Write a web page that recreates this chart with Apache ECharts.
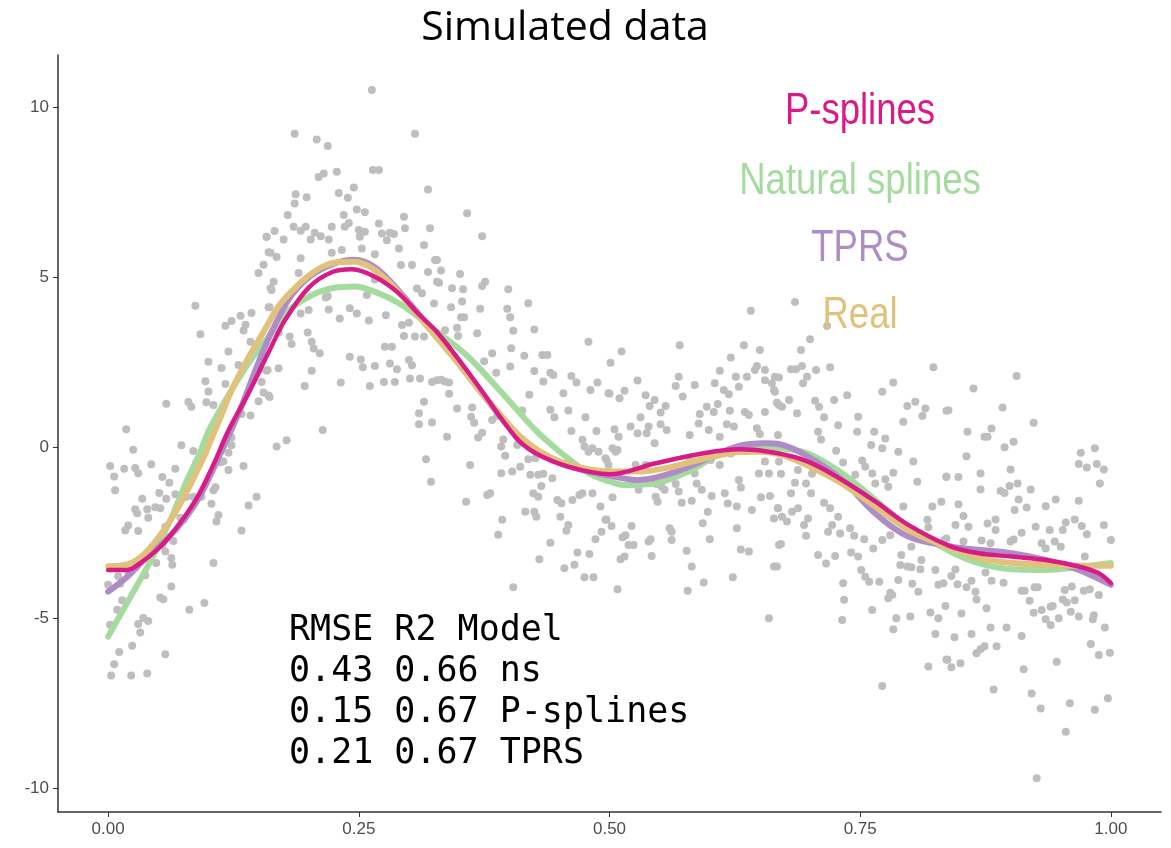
<!DOCTYPE html>
<html><head><meta charset="utf-8">
<script src="https://cdn.jsdelivr.net/npm/echarts@6/dist/echarts.min.js"></script>
<style>html,body{margin:0;padding:0;background:#fff}#c{width:1171px;height:848px}</style>
</head><body><div id="c"></div>
<script>
var titleText = 'Simulated data';
var xTicks = [0, 0.25, 0.5, 0.75, 1];
var yTicks = [-10, -5, 0, 5, 10];
var legendNames = ['P-splines', 'Natural splines', 'TPRS', 'Real'];
var statsLines = ['RMSE R2 Model', '0.43 0.66 ns', '0.15 0.67 P-splines', '0.21 0.67 TPRS'];

var realCurve = [[0,-3.48],[0.02,-3.42],[0.035,-3.15],[0.05,-2.65],[0.065,-2.0],[0.08,-1.2],[0.095,-0.3],[0.11,0.75],[0.125,1.8],[0.14,2.65],[0.155,3.4],[0.17,4.15],[0.185,4.65],[0.2,5.05],[0.215,5.33],[0.23,5.45],[0.245,5.46],[0.26,5.33],[0.275,5.0],[0.29,4.55],[0.31,3.85],[0.33,3.15],[0.35,2.45],[0.37,1.7],[0.39,1.0],[0.41,0.35],[0.43,-0.1],[0.45,-0.4],[0.47,-0.58],[0.5,-0.7],[0.53,-0.7],[0.56,-0.58],[0.595,-0.32],[0.63,-0.13],[0.65,-0.12],[0.67,-0.2],[0.7,-0.56],[0.73,-1.02],[0.765,-1.73],[0.8,-2.45],[0.84,-2.95],[0.87,-3.25],[0.9,-3.38],[0.935,-3.44],[0.97,-3.47],[1.0,-3.47]];
var pSplinesCurve = [[0,-3.59],[0.019,-3.59],[0.032,-3.39],[0.052,-2.91],[0.072,-2.2],[0.09,-1.4],[0.105,-0.5],[0.12,0.5],[0.14,1.6],[0.16,2.8],[0.1765,3.75],[0.2,4.7],[0.223,5.15],[0.243,5.24],[0.266,5.02],[0.29,4.53],[0.309,3.94],[0.329,3.36],[0.366,1.94],[0.406,0.32],[0.426,-0.16],[0.459,-0.56],[0.5,-0.78],[0.546,-0.46],[0.595,-0.16],[0.629,-0.05],[0.665,-0.15],[0.698,-0.41],[0.732,-0.95],[0.765,-1.58],[0.798,-2.27],[0.84,-2.9],[0.868,-3.1],[0.901,-3.2],[0.935,-3.3],[0.968,-3.49],[0.988,-3.69],[1.0,-3.98]];
var tprsCurve = [[0,-4.23],[0.019,-3.79],[0.039,-3.2],[0.058,-2.71],[0.078,-2.03],[0.092,-1.4],[0.11,-0.3],[0.13,1.0],[0.157,3.0],[0.18,4.35],[0.2,5.0],[0.223,5.38],[0.245,5.52],[0.266,5.3],[0.29,4.6],[0.33,3.2],[0.37,1.7],[0.41,0.3],[0.45,-0.45],[0.496,-0.8],[0.529,-0.95],[0.562,-0.75],[0.595,-0.36],[0.629,0.05],[0.655,0.13],[0.67,0.1],[0.698,-0.26],[0.732,-0.95],[0.765,-1.93],[0.798,-2.61],[0.84,-2.9],[0.868,-3.0],[0.901,-3.1],[0.935,-3.3],[0.968,-3.59],[1.0,-4.03]];
var naturalCurve = [[0,-5.55],[0.015,-4.76],[0.032,-3.88],[0.048,-3.0],[0.065,-1.93],[0.078,-1.0],[0.09,-0.25],[0.103,0.65],[0.137,2.35],[0.161,3.3],[0.1765,3.94],[0.2,4.43],[0.223,4.68],[0.246,4.73],[0.27,4.53],[0.29,4.24],[0.309,3.85],[0.326,3.45],[0.359,2.67],[0.393,1.6],[0.426,0.52],[0.452,-0.16],[0.479,-0.75],[0.501,-1.0],[0.516,-1.1],[0.546,-1.05],[0.579,-0.7],[0.612,-0.16],[0.645,0.03],[0.67,-0.02],[0.698,-0.17],[0.732,-0.75],[0.765,-1.53],[0.798,-2.32],[0.84,-3.05],[0.868,-3.39],[0.901,-3.57],[0.935,-3.59],[0.968,-3.51],[1.0,-3.39]];

var simPoints = [
[0.158,6.19],[0.160,5.74],[0.155,5.37],[0.150,5.13],[0.162,4.68],[0.160,4.12],[0.087,4.17],[0.092,3.33],[0.123,3.72],[0.117,3.58],[0.132,3.87],[0.143,3.95],[0.135,3.44],[0.137,3.61],[0.120,2.82],[0.100,2.52],[0.113,2.34],[0.097,1.95],[0.100,1.65],[0.058,1.29],[0.080,1.34],[0.083,1.20],[0.098,1.33],[0.105,1.25],[0.117,1.87],[0.130,2.43],[0.142,3.11],[0.152,2.32],[0.158,2.26],[0.153,1.93],[0.155,1.62],[0.150,1.36],[0.142,0.94],[0.133,0.99],[0.160,1.53],[0.123,0.30],[0.123,0.07],[0.120,-0.15],[0.115,-0.40],[0.112,-0.43],[0.120,-0.66],[0.135,-0.54],[0.018,0.54],[0.025,-0.06],[0.002,-0.54],[0.016,-0.62],[0.027,-0.60],[0.030,-0.75],[0.043,-0.49],[0.006,-0.85],[0.007,-1.25],[0.067,-0.62],[0.073,0.07],[0.085,-0.10],[0.088,-0.43],[0.054,-0.86],[0.061,-1.03],[0.051,-1.33],[0.034,-1.5],[0.027,-1.81],[0.029,-1.93],[0.039,-1.81],[0.040,-2.06],[0.047,-1.75],[0.052,-1.78],[0.058,-1.5],[0.067,-1.37],[0.078,-1.44],[0.085,-1.44],[0.093,-1.44],[0.105,-1.25],[0.107,-1.16],[0.103,-1.65],[0.110,-1.98],[0.108,-2.17],[0.072,-2.06],[0.075,-2.12],[0.020,-2.29],[0.017,-2.43],[0.030,-2.45],[0.057,-2.32],[0.065,-2.74],[0.054,-2.85],[0.057,-3.05],[0.063,-3.24],[0.064,-3.44],[0.048,-3.39],[0.037,-3.75],[0.020,-3.63],[0.010,-3.78],[0.000,-4.03],[0.012,-4.0],[0.105,-3.39],[0.133,-2.43],[0.140,-1.70],[0.148,-1.44],[0.063,-4.08],[0.052,-4.4],[0.055,-4.45],[0.081,-4.76],[0.096,-4.56],[0.014,-4.48],[0.009,-4.76],[0.002,-5.2],[0.030,-5.18],[0.035,-5.0],[0.040,-5.09],[0.032,-5.43],[0.024,-5.82],[0.011,-6.0],[0.057,-6.07],[0.006,-6.36],[0.003,-6.69],[0.023,-6.69],[0.039,-6.63],
[0.263,10.5],[0.186,9.22],[0.208,9.05],[0.219,8.86],[0.306,9.22],[0.210,7.95],[0.215,8.05],[0.228,8.10],[0.264,8.15],[0.270,8.15],[0.245,7.64],[0.230,7.48],[0.187,7.44],[0.198,7.35],[0.186,7.17],[0.239,7.34],[0.319,7.58],[0.179,6.83],[0.235,6.83],[0.248,6.99],[0.256,6.91],[0.295,6.78],[0.158,6.19],[0.166,6.36],[0.185,6.49],[0.192,6.37],[0.197,6.49],[0.175,6.11],[0.206,6.31],[0.202,6.11],[0.212,6.21],[0.220,6.11],[0.223,6.49],[0.236,6.49],[0.240,6.60],[0.250,6.39],[0.256,6.34],[0.251,6.19],[0.270,6.58],[0.273,6.29],[0.281,6.31],[0.285,6.27],[0.296,6.44],[0.321,6.44],[0.278,6.09],[0.290,5.85],[0.315,5.95],[0.162,5.72],[0.168,5.6],[0.192,5.56],[0.223,5.72],[0.233,5.80],[0.253,5.85],[0.266,5.68],[0.326,5.51],[0.190,5.13],[0.165,4.87],[0.163,4.63],[0.292,5.36],[0.303,5.36],[0.319,5.16],[0.328,4.87],[0.308,4.67],[0.313,4.53],[0.161,4.12],[0.219,4.45],[0.217,4.41],[0.258,4.48],[0.266,4.94],[0.192,3.94],[0.200,4.04],[0.220,4.06],[0.241,4.09],[0.248,3.94],[0.231,3.79],[0.260,3.73],[0.277,3.89],[0.325,4.23],[0.170,3.37],[0.181,3.26],[0.183,3.04],[0.199,3.38],[0.203,3.11],[0.205,2.91],[0.211,2.77],[0.159,2.28],[0.170,2.33],[0.203,2.26],[0.241,2.67],[0.252,2.59],[0.254,2.36],[0.266,2.40],[0.275,1.93],[0.281,2.47],[0.288,2.30],[0.286,1.93],[0.293,3.6],[0.295,3.28],[0.300,3.67],[0.306,3.26],[0.315,3.26],[0.276,2.96],[0.283,2.96],[0.300,2.57],[0.303,2.42],[0.301,2.03],[0.311,2.03],[0.323,1.93],[0.328,1.98],[0.196,1.81],[0.232,1.91],[0.261,1.81],[0.161,1.49],[0.315,1.35],[0.310,1.01],[0.310,0.69],[0.323,0.74],[0.214,0.52],[0.178,0.22],[0.168,0.03],[0.317,-0.34],[0.322,-1.0],
[0.358,6.88],[0.373,6.21],[0.328,5.51],[0.332,5.2],[0.330,4.84],[0.351,5.1],[0.343,4.68],[0.354,4.65],[0.373,4.75],[0.376,4.87],[0.399,4.65],[0.419,4.24],[0.353,4.29],[0.342,4.12],[0.371,4.08],[0.398,4.08],[0.352,3.83],[0.355,3.83],[0.401,3.83],[0.348,3.52],[0.336,3.45],[0.349,3.28],[0.368,3.36],[0.404,3.43],[0.425,3.47],[0.402,2.92],[0.383,2.77],[0.415,2.70],[0.433,2.72],[0.438,2.72],[0.479,3.11],[0.375,2.54],[0.401,2.38],[0.387,2.2],[0.425,2.25],[0.441,2.2],[0.444,2.13],[0.462,2.1],[0.467,1.91],[0.488,1.91],[0.481,1.69],[0.499,1.6],[0.336,1.94],[0.340,1.91],[0.332,1.99],[0.340,1.58],[0.434,1.94],[0.454,1.6],[0.420,1.55],[0.348,1.15],[0.363,1.18],[0.362,0.91],[0.365,0.73],[0.373,0.44],[0.369,0.3],[0.383,0.81],[0.388,0.93],[0.413,1.09],[0.441,1.11],[0.445,0.89],[0.459,1.09],[0.476,0.89],[0.462,0.49],[0.487,0.49],[0.338,0.32],[0.394,0.24],[0.392,0.03],[0.396,-0.24],[0.408,0.08],[0.409,0.27],[0.361,-0.51],[0.392,-0.75],[0.403,-0.7],[0.411,-0.56],[0.419,-0.34],[0.426,-0.31],[0.421,-0.8],[0.429,-0.8],[0.434,-0.77],[0.443,-0.9],[0.473,0.23],[0.475,0.03],[0.479,-0.12],[0.483,-0.02],[0.489,-0.12],[0.496,-0.31],[0.499,-0.51],[0.432,-1.13],[0.424,-1.34],[0.429,-1.44],[0.378,-1.39],[0.381,-1.34],[0.357,-1.59],[0.448,-1.54],[0.452,-1.63],[0.463,-1.54],[0.470,-1.39],[0.473,-1.34],[0.483,-1.34],[0.491,-1.73],[0.416,-1.88],[0.425,-1.88],[0.427,-2.03],[0.451,-2.03],[0.393,-2.12],[0.459,-2.27],[0.457,-2.44],[0.496,-2.12],[0.492,-2.47],[0.389,-2.56],[0.486,-2.69],[0.441,-2.79],[0.468,-3.08],[0.480,-3.12],[0.430,-3.28],[0.455,-3.54],[0.465,-3.44],[0.475,-3.81],[0.484,-3.81],[0.404,-4.1],
[0.641,4.02],[0.570,3.01],[0.634,3.01],[0.512,2.82],[0.501,2.49],[0.650,2.87],[0.621,2.65],[0.610,2.26],[0.647,2.4],[0.645,2.28],[0.655,2.28],[0.665,2.08],[0.569,2.08],[0.566,1.81],[0.585,1.84],[0.528,1.97],[0.605,1.89],[0.626,2.08],[0.637,2.08],[0.655,1.98],[0.662,1.89],[0.664,1.69],[0.500,1.59],[0.515,1.67],[0.510,1.45],[0.536,1.54],[0.545,1.4],[0.573,1.5],[0.614,1.69],[0.619,1.57],[0.629,1.79],[0.540,1.22],[0.556,1.22],[0.551,1.03],[0.531,0.89],[0.597,1.2],[0.604,1.05],[0.608,1.28],[0.620,1.08],[0.635,1.05],[0.639,0.96],[0.655,1.05],[0.667,1.32],[0.590,0.99],[0.589,0.71],[0.551,0.69],[0.539,0.62],[0.521,0.62],[0.505,0.54],[0.509,0.32],[0.557,0.52],[0.617,0.69],[0.599,0.52],[0.647,0.57],[0.528,0.42],[0.537,0.42],[0.580,0.37],[0.610,0.32],[0.650,0.4],[0.545,0.13],[0.503,-0.02],[0.506,-0.12],[0.497,-0.36],[0.508,-0.07],[0.526,-0.51],[0.536,-0.51],[0.580,-0.41],[0.601,-0.36],[0.610,-0.51],[0.655,-0.41],[0.621,-0.17],[0.624,0.62],[0.649,-0.76],[0.659,-0.76],[0.669,-0.41],[0.585,-0.76],[0.587,-1.05],[0.592,-1.24],[0.566,-1.07],[0.569,-1.29],[0.547,-1.07],[0.552,-1.15],[0.555,-1.24],[0.529,-1.24],[0.503,-1.46],[0.546,-1.44],[0.548,-1.59],[0.572,-1.62],[0.582,-1.56],[0.602,-1.42],[0.615,-1.34],[0.629,-0.95],[0.631,-1.17],[0.651,-1.46],[0.660,-1.42],[0.618,-1.64],[0.627,-1.73],[0.642,-1.83],[0.668,-1.78],[0.598,-1.88],[0.664,-2.08],[0.497,-2.11],[0.502,-2.3],[0.522,-2.3],[0.593,-2.22],[0.560,-2.37],[0.562,-2.47],[0.516,-2.57],[0.513,-2.63],[0.541,-2.69],[0.539,-2.76],[0.600,-2.69],[0.627,-2.37],[0.519,-2.86],[0.524,-2.86],[0.562,-2.71],[0.577,-3.03],[0.631,-2.99],[0.639,-3.05],[0.669,-2.86],[0.515,-3.2],[0.511,-3.28],[0.542,-3.18],[0.582,-3.49],[0.664,-3.49],[0.623,-3.81],[0.594,-3.96],[0.508,-4.16],[0.578,-4.2],[0.659,-5.01],
[0.685,4.28],[0.717,3.57],[0.700,3.18],[0.691,2.87],[0.681,2.30],[0.686,2.30],[0.692,2.4],[0.706,2.28],[0.720,2.36],[0.823,2.36],[0.669,2.06],[0.697,2.08],[0.693,1.89],[0.783,1.91],[0.772,1.64],[0.665,1.64],[0.737,1.54],[0.724,1.4],[0.679,1.4],[0.705,1.38],[0.669,1.25],[0.709,1.2],[0.714,0.89],[0.672,1.2],[0.797,1.22],[0.805,1.35],[0.815,1.15],[0.812,0.93],[0.793,0.76],[0.687,1.01],[0.748,0.91],[0.728,0.66],[0.747,0.47],[0.764,0.47],[0.775,0.27],[0.708,0.47],[0.668,0.37],[0.711,0.24],[0.761,0.08],[0.772,-0.02],[0.788,-0.12],[0.726,-0.09],[0.836,1.08],[0.803,-0.41],[0.752,-0.38],[0.755,-0.56],[0.733,-0.44],[0.688,-0.66],[0.671,-0.77],[0.702,-0.77],[0.745,-0.8],[0.783,-0.74],[0.762,-0.76],[0.765,-1.05],[0.775,-0.93],[0.685,-1.03],[0.696,-1.05],[0.807,-1.0],[0.836,-0.85],[0.778,-1.15],[0.681,-1.34],[0.701,-1.34],[0.714,-1.62],[0.720,-1.78],[0.755,-1.59],[0.668,-1.78],[0.672,-2.03],[0.682,-1.88],[0.688,-1.78],[0.677,-2.17],[0.698,-2.08],[0.694,-2.27],[0.728,-2.03],[0.740,-2.37],[0.722,-2.27],[0.718,-2.47],[0.730,-2.52],[0.822,-1.73],[0.831,-1.59],[0.818,-2.34],[0.817,-2.12],[0.793,-1.73],[0.696,-2.59],[0.671,-2.83],[0.744,-2.59],[0.754,-2.69],[0.763,-2.96],[0.772,-2.71],[0.780,-2.57],[0.801,-2.91],[0.834,-2.71],[0.708,-3.15],[0.716,-3.4],[0.725,-3.18],[0.741,-3.08],[0.748,-3.2],[0.667,-3.49],[0.791,-3.15],[0.790,-3.45],[0.797,-3.49],[0.801,-3.51],[0.811,-3.3],[0.810,-3.57],[0.751,-3.59],[0.755,-3.79],[0.759,-3.94],[0.769,-3.94],[0.788,-3.89],[0.802,-4.0],[0.808,-4.23],[0.825,-3.59],[0.828,-4.03],[0.833,-3.98],[0.733,-3.98],[0.780,-4.26],[0.778,-4.42],[0.782,-4.33],[0.734,-4.47],[0.762,-4.77],[0.732,-5.06],[0.783,-5.33],[0.786,-5.01],[0.800,-4.96],[0.820,-4.84],[0.828,-5.01],[0.825,-5.47],[0.818,-6.43],[0.837,-6.23],[0.772,-7.0],
[0.906,2.1],[0.863,1.74],[0.838,1.1],[0.892,1.18],[0.923,0.73],[0.857,0.47],[0.881,0.56],[0.874,0.32],[0.877,0.32],[0.894,0.01],[0.903,0.17],[0.970,-0.15],[0.984,-0.02],[0.856,-0.25],[0.968,-0.48],[0.976,-0.58],[0.986,-0.48],[0.993,-0.64],[0.989,-1.05],[0.900,-0.64],[0.836,-0.86],[0.848,-0.86],[0.870,-0.76],[0.870,-1.23],[0.890,-1.27],[0.894,-1.33],[0.899,-1.13],[0.907,-1.05],[0.920,-1.23],[0.945,-1.52],[0.935,-1.72],[0.908,-1.52],[0.904,-1.83],[0.916,-1.76],[0.848,-1.66],[0.853,-2.01],[0.968,-1.56],[0.845,-2.27],[0.858,-2.32],[0.877,-2.23],[0.885,-2.11],[0.885,-2.42],[0.925,-2.32],[0.939,-2.42],[0.952,-2.42],[0.955,-2.2],[0.964,-2.11],[0.971,-2.3],[0.976,-2.54],[0.993,-2.27],[1.0,-2.71],[0.853,-2.76],[0.871,-2.73],[0.880,-2.81],[0.911,-2.5],[0.903,-2.7],[0.900,-2.76],[0.931,-2.81],[0.935,-2.96],[0.944,-2.76],[0.950,-2.91],[0.974,-3.2],[0.836,-2.67],[0.845,-3.58],[0.841,-3.77],[0.847,-4.01],[0.856,-4.1],[0.861,-3.91],[0.865,-4.23],[0.866,-4.46],[0.875,-3.67],[0.881,-3.91],[0.893,-3.97],[0.911,-4.2],[0.914,-4.2],[0.924,-4.1],[0.927,-4.1],[0.919,-4.5],[0.923,-4.85],[0.931,-4.77],[0.940,-4.67],[0.942,-4.65],[0.935,-5.04],[0.940,-5.21],[0.948,-5.01],[0.954,-4.18],[0.961,-4.08],[0.952,-4.46],[0.956,-4.55],[0.964,-4.48],[0.960,-4.82],[0.968,-4.96],[0.973,-4.2],[0.979,-4.16],[0.988,-4.33],[0.983,-4.92],[0.982,-5.04],[0.994,-5.28],[0.835,-4.65],[0.851,-4.87],[0.844,-5.57],[0.861,-5.47],[0.876,-4.72],[0.880,-5.28],[0.896,-5.28],[0.911,-5.53],[0.866,-6.04],[0.870,-5.92],[0.874,-5.83],[0.886,-5.83],[0.836,-6.22],[0.841,-6.45],[0.850,-6.33],[0.946,-6.29],[0.980,-5.77],[0.988,-6.09],[0.999,-6.02],[0.913,-6.51],[0.883,-7.1],[0.921,-7.22],[0.930,-7.66],[0.959,-7.51],[0.984,-7.7],[0.997,-7.36],[0.955,-8.34],[0.926,-9.71]
];

var colPS = '#d81b87', colNS = '#a6dba0', colTP = '#ae8cc6', colRE = '#e0c27c';
var sansFam = '"Liberation Sans",Arial,sans-serif';

var chart = echarts.init(document.getElementById('c'), null, {renderer: 'canvas'});
function lineSeries(name, data, color, width) {
  return {type: 'line', name: name, data: data, showSymbol: false, symbol: 'none', smooth: 0.35,
    lineStyle: {color: color, width: width, cap: 'round'}, z: 3, silent: true};
}
var legendY = [112, 182, 249, 316];
var legendCols = [colPS, colNS, colTP, colRE];
var graphics = [{type: 'text', x: 565, y: 28, style: {text: titleText, fill: '#000', fontSize: 41, fontFamily: '"Open Sans", sans-serif', align: 'center', verticalAlign: 'middle'}}];
legendNames.forEach(function (n, i) {
  graphics.push({type: 'text', x: 860, y: legendY[i], scaleX: 0.83, style: {text: n, fill: legendCols[i], fontSize: 44, fontFamily: sansFam, align: 'center', verticalAlign: 'middle'}, z: 10});
});
statsLines.forEach(function (t, i) {
  graphics.push({type: 'text', x: 289, y: 613 + i * 41, style: {text: t, fill: '#000', fontSize: 35, fontFamily: '"DejaVu Sans Mono", monospace', align: 'left', verticalAlign: 'top'}, z: 10});
});

chart.setOption({
  animation: false,
  backgroundColor: '#fff',
  grid: {left: 58, right: 10, top: 55, bottom: 36, containLabel: false, outerBoundsMode: 'none'},
  xAxis: {type: 'value', min: -0.05, max: 1.05,
    axisLine: {show: true, onZero: false, lineStyle: {color: '#333', width: 1.5}},
    axisTick: {show: true, length: 5, customValues: xTicks, lineStyle: {color: '#333'}},
    axisLabel: {customValues: xTicks, margin: 9, color: '#4d4d4d', fontSize: 17, fontFamily: sansFam, formatter: function (v) { return v.toFixed(2); }},
    splitLine: {show: false}},
  yAxis: {type: 'value', min: -10.70, max: 11.53,
    axisLine: {show: true, onZero: false, lineStyle: {color: '#333', width: 1.5}},
    axisTick: {show: true, length: 5, customValues: yTicks, lineStyle: {color: '#333'}},
    axisLabel: {customValues: yTicks, margin: 9, color: '#4d4d4d', fontSize: 17, fontFamily: sansFam},
    splitLine: {show: false}},
  graphic: graphics,
  series: [
    {type: 'scatter', data: simPoints, symbolSize: 8, itemStyle: {color: '#bebebe', opacity: 1}, z: 2, silent: true},
    lineSeries('Natural splines', naturalCurve, colNS, 6),
    lineSeries('TPRS', tprsCurve, colTP, 6),
    lineSeries('Real', realCurve, colRE, 6),
    lineSeries('P-splines', pSplinesCurve, colPS, 4.5)
  ]
});
</script></body></html>
